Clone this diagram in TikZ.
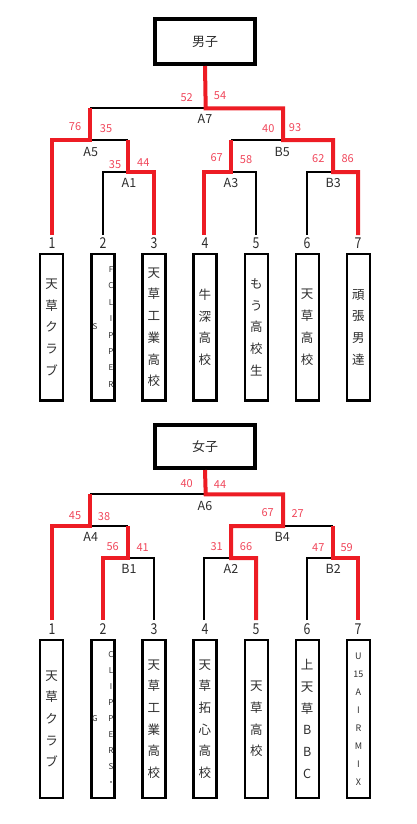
\documentclass[tikz,border=0pt]{standalone}
\usepackage{fontspec}
\setmainfont{Noto Sans CJK JP}
\newfontfamily\numfont[FakeStretch=0.82]{Noto Sans CJK JP}
\definecolor{wred}{RGB}{237,28,36}
\definecolor{score}{RGB}{240,70,90}
\definecolor{lab}{RGB}{45,45,45}
\begin{document}
\begin{tikzpicture}[x=1pt,y=-1pt,
  win/.style={draw=wred,line width=4pt,line join=miter},
  lose/.style={draw=black,line width=1.8pt},
  titlebox/.style={draw,line width=4pt,minimum width=100.6pt,inner sep=0pt,font=\fontsize{13}{15}\selectfont,text=lab},
  namebox/.style={draw,line width=2.2pt,minimum width=23pt,inner sep=0pt,align=center,text=lab,font=\fontsize{12.5}{21.7}\selectfont},
  smallcol/.style={inner sep=0pt,align=center,text=lab,font=\fontsize{8}{16.4}\selectfont},
  sc/.style={text=score,font=\fontsize{11}{12}\selectfont,inner sep=0pt},
  mt/.style={text=lab,font=\fontsize{12.5}{13}\selectfont,inner sep=0pt},
  num/.style={text=lab,font=\numfont\fontsize{15}{16}\selectfont,inner sep=0pt}]
\useasboundingbox (0,0) rectangle (417,824);

% ---------------- 男子 ----------------
\coordinate (A7) at (205.7,108.3);
\coordinate (A5) at (90,140);
\coordinate (B5) at (283,140);
\coordinate (A1) at (128,172);
\coordinate (A3) at (231,172);
\coordinate (B3) at (333,172);
\coordinate (m1) at (52,235);
\coordinate (m2) at (103,235);
\coordinate (m3) at (154,235);
\coordinate (m4) at (204,235);
\coordinate (m5) at (256,235);
\coordinate (m6) at (307,235);
\coordinate (m7) at (358,235);

\node[titlebox,minimum height=44.7pt] (t1) at (205,41.65) {男子};

\draw[lose] (A5 |- A7) -- (A7);
\draw[lose] (A5) -- (A1 |- A5);
\draw[lose] (m2) -- (m2 |- A1) -- (A1);
\draw[lose] (B5) -- (A3 |- B5);
\draw[lose] (A3) -- (m5 |- A3) -- (m5);
\draw[lose] (B3) -- (m6 |- B3) -- (m6);

\draw[win] (t1.south) -- (A7) -- (B5 |- A7) -- (B5) -- (B3 |- B5) -- (B3) -- (m7 |- B3) -- (m7);
\draw[win] (m1) -- (m1 |- A5) -- (A5) -- (A5 |- A7);
\draw[win] (A1 |- A5) -- (A1) -- (m3 |- A1) -- (m3);
\draw[win] (A3 |- B5) -- (A3) -- (m4 |- A3) -- (m4);

\node[sc] (s1) at (186.7,97.3) {52};
\node[sc] (s2) at (220,95.7) {54};
\node[mt] (l1) at (205,119) {A7};
\node[sc] (s3) at (75,126.7) {76};
\node[sc] (s4) at (106,128.3) {35};
\node[mt] (l2) at (90.7,151.7) {A5};
\node[sc] (s5) at (268.3,128.3) {40};
\node[sc] (s6) at (295,127.7) {93};
\node[mt] (l3) at (282.3,151.7) {B5};
\node[sc] (s7) at (115,164.3) {35};
\node[sc] (s8) at (143.3,162.3) {44};
\node[mt] (l4) at (129,182.7) {A1};
\node[sc] (s9) at (216.7,157.3) {67};
\node[sc] (s10) at (246,159.3) {58};
\node[mt] (l5) at (231,182.7) {A3};
\node[sc] (s11) at (318.3,159) {62};
\node[sc] (s12) at (347.7,159) {86};
\node[mt] (l6) at (333.3,182.7) {B3};

\node[num] (k1) at (52,243) {1};
\node[num] (k2) at (103,243) {2};
\node[num] (k3) at (154,243) {3};
\node[num] (k4) at (205,243) {4};
\node[num] (k5) at (256,243) {5};
\node[num] (k6) at (307,243) {6};
\node[num] (k7) at (358,243) {7};

\node[namebox,minimum height=146.5pt] (n1) at (51.7,327.2) {天\\草\\ク\\ラ\\ブ};
\node[namebox,minimum height=146.5pt] (n2) at (102.9,327.2) {};
\node[smallcol] (n2a) at (111,327) {F\\C\\L\\I\\P\\P\\E\\R};
\node[smallcol] (n2b) at (95,327) {S};
\node[namebox,minimum height=146.5pt] (n3) at (153.9,327.2) {天\\草\\工\\業\\高\\校};
\node[namebox,minimum height=146.5pt] (n4) at (204.9,327.2) {牛\\深\\高\\校};
\node[namebox,minimum height=146.5pt] (n5) at (256.3,327.2) {も\\う\\高\\校\\生};
\node[namebox,minimum height=146.5pt] (n6) at (307.2,327.2) {天\\草\\高\\校};
\node[namebox,minimum height=146.5pt] (n7) at (358.4,327.2) {頑\\張\\男\\達};

% ---------------- 女子 ----------------
\coordinate (A6) at (205.7,494.3);
\coordinate (A4) at (90,526);
\coordinate (B4) at (283,526);
\coordinate (B1) at (128,558);
\coordinate (A2) at (231,558);
\coordinate (B2) at (333,558);
\coordinate (f1) at (52,620);
\coordinate (f2) at (103,620);
\coordinate (f3) at (154,620);
\coordinate (f4) at (204,620);
\coordinate (f5) at (256,620);
\coordinate (f6) at (307,620);
\coordinate (f7) at (358,620);

\node[titlebox,minimum height=43.3pt] (t2) at (205,446.35) {女子};

\draw[lose] (A4 |- A6) -- (A6);
\draw[lose] (A4) -- (B1 |- A4);
\draw[lose] (B1) -- (f3 |- B1) -- (f3);
\draw[lose] (B4) -- (B2 |- B4);
\draw[lose] (f4) -- (f4 |- A2) -- (A2);
\draw[lose] (f6) -- (f6 |- B2) -- (B2);

\draw[win] (t2.south) -- (A6) -- (B4 |- A6) -- (B4) -- (A2 |- B4) -- (A2) -- (f5 |- A2) -- (f5);
\draw[win] (f1) -- (f1 |- A4) -- (A4) -- (A4 |- A6);
\draw[win] (B1 |- A4) -- (B1) -- (f2 |- B1) -- (f2);
\draw[win] (B2 |- B4) -- (B2) -- (f7 |- B2) -- (f7);

\node[sc] (u1) at (186.7,483.3) {40};
\node[sc] (u2) at (220,485) {44};
\node[mt] (g1) at (205,505.7) {A6};
\node[sc] (u3) at (75,516) {45};
\node[sc] (u4) at (104,516.7) {38};
\node[mt] (g2) at (90.7,536.7) {A4};
\node[sc] (u5) at (112.7,546.7) {56};
\node[sc] (u6) at (142.7,547.3) {41};
\node[mt] (g3) at (129,569.3) {B1};
\node[sc] (u7) at (267.7,512.7) {67};
\node[sc] (u8) at (297.7,513.3) {27};
\node[mt] (g4) at (282.3,536.7) {B4};
\node[sc] (u9) at (216.7,546.7) {31};
\node[sc] (u10) at (246,546.7) {66};
\node[mt] (g5) at (231,569.3) {A2};
\node[sc] (u11) at (318.3,547.3) {47};
\node[sc] (u12) at (346.7,547.3) {59};
\node[mt] (g6) at (333.3,569.3) {B2};

\node[num] (j1) at (52,629.3) {1};
\node[num] (j2) at (103,629.3) {2};
\node[num] (j3) at (154,629.3) {3};
\node[num] (j4) at (205,629.3) {4};
\node[num] (j5) at (256,629.3) {5};
\node[num] (j6) at (307,629.3) {6};
\node[num] (j7) at (358,629.3) {7};

\node[namebox,minimum height=157.5pt] (w1) at (51.7,719) {天\\草\\ク\\ラ\\ブ};
\node[namebox,minimum height=157.5pt] (w2) at (102.9,719) {};
\node[smallcol,font=\fontsize{8}{16}\selectfont] (w2a) at (111,718.3) {C\\L\\I\\P\\P\\E\\R\\S\\・};
\node[smallcol] (w2b) at (95,719) {G};
\node[namebox,minimum height=157.5pt] (w3) at (153.9,719) {天\\草\\工\\業\\高\\校};
\node[namebox,minimum height=157.5pt] (w4) at (204.9,719) {天\\草\\拓\\心\\高\\校};
\node[namebox,minimum height=157.5pt] (w5) at (256.3,719) {天\\草\\高\\校};
\node[namebox,minimum height=157.5pt] (w6) at (307.2,719) {上\\天\\草\\B\\B\\C};
\node[namebox,minimum height=157.5pt,font=\fontsize{9}{18}\selectfont] (w7) at (358.4,719) {U\\15\\A\\I\\R\\M\\I\\X};
\end{tikzpicture}
\end{document}
